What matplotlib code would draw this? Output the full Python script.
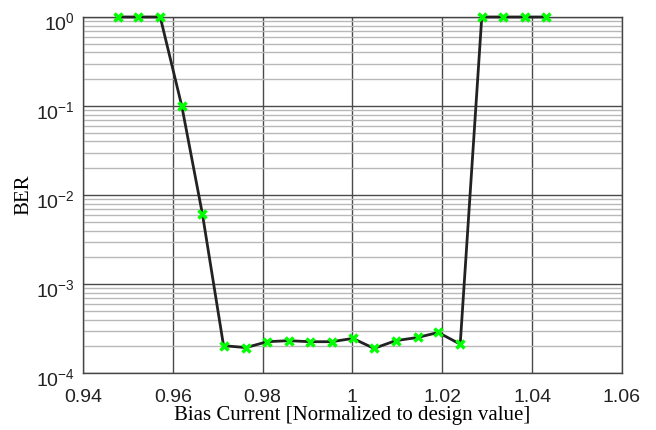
import matplotlib
matplotlib.use('Agg')
import matplotlib.pyplot as plt
import matplotlib.transforms as mtransforms
from matplotlib.ticker import LogLocator, NullFormatter

plt.rcParams['mathtext.fontset'] = 'custom'
plt.rcParams['mathtext.rm'] = 'Liberation Sans'
plt.rcParams['mathtext.it'] = 'Liberation Sans:italic'
plt.rcParams['mathtext.bf'] = 'Liberation Sans:bold'

bias = [0.9477, 0.9523, 0.9572, 0.9620, 0.9666, 0.9713, 0.9763, 0.9810,
        0.9858, 0.9905, 0.9954, 1.0001, 1.0048, 1.0096, 1.0145, 1.0191,
        1.0240, 1.0288, 1.0336, 1.0384, 1.0431]
ber = [1.0, 1.0, 1.0, 1.0e-1, 6.1e-3, 2.04e-4, 1.94e-4, 2.26e-4,
       2.32e-4, 2.26e-4, 2.26e-4, 2.46e-4, 1.90e-4, 2.32e-4, 2.52e-4, 2.87e-4,
       2.12e-4, 1.0, 1.0, 1.0, 1.0]

xticks = [0.94, 0.96, 0.98, 1.0, 1.02, 1.04, 1.06]
xticklabels = ['0.94', '0.96', '0.98', '1', '1.02', '1.04', '1.06']

fig = plt.figure(figsize=(6.56, 4.30), dpi=100)
ax = fig.add_axes([0.1265, 0.132, 0.8215, 0.8285])

ax.plot(bias, ber, color='#222222', linewidth=2, zorder=3, clip_on=False)
ax.plot(bias, ber, linestyle='none', marker='x', markersize=6,
        markeredgewidth=2.5, color='#00ff00', zorder=4, clip_on=False)

ax.set_yscale('log')
ax.set_xlim(0.94, 1.06)
ax.set_ylim(1e-4, 1e0)
ax.set_xticks(xticks)
ax.set_xticklabels(xticklabels, fontfamily='Liberation Sans', fontsize=14)
ax.yaxis.set_major_locator(LogLocator(base=10, numticks=10))
ax.yaxis.set_minor_locator(LogLocator(base=10, subs=range(2, 10), numticks=50))
ax.yaxis.set_minor_formatter(NullFormatter())

ax.grid(True, which='major', color='#4a4a4a', linewidth=1)
ax.grid(True, which='minor', axis='y', color='#b8b8b8', linewidth=1)
ax.set_axisbelow(True)
ax.tick_params(which='both', length=0, colors='#222222')
ax.tick_params(axis='x', pad=11)
ax.tick_params(axis='y', pad=6)
for s in ax.spines.values():
    s.set_color('#444444')
    s.set_linewidth(1)

# matlab puts the "10" a bit below the grid line
fig.canvas.draw()
shift = mtransforms.ScaledTranslation(0, -4 / 100, fig.dpi_scale_trans)
for tk in ax.yaxis.get_major_ticks():
    tk.label1.set_fontfamily('Liberation Sans')
    tk.label1.set_fontsize(14)
    tk.label1.set_transform(tk.label1.get_transform() + shift)

ax.set_xlabel('Bias Current [Normalized to design value]',
              fontfamily='Liberation Serif', fontsize=15, labelpad=0)
ax.set_ylabel('BER', fontfamily='Liberation Serif', fontsize=15, labelpad=2)

fig.savefig('out.png', dpi=100)
